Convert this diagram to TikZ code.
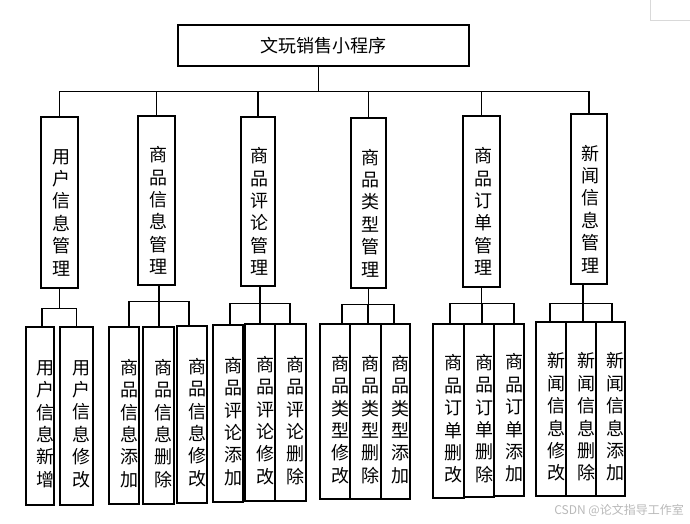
\documentclass[tikz,border=0pt]{standalone}
\usepackage{fontspec}
\newfontfamily\cjk{Noto Sans CJK SC}
\newcommand\bx[8]{%
  \node[box, minimum width={#4-#2}, minimum height={#5-#3},
        label={[vtext,xshift=#6pt,yshift=#7pt]center:{#8}}] (#1) at ({(#2+#4)/2},{(#3+#5)/2}) {};}
\begin{document}
\begin{tikzpicture}[x=1pt,y=-1pt,
  box/.style={draw, line width=1.2pt, inner sep=0pt},
  conn/.style={line width=1.2pt},
  vtext/.style={font=\cjk\fontsize{18}{22.4}\selectfont, align=center, inner sep=0pt}]
\useasboundingbox[fill=white] (0,0) rectangle (690,524);

% title
\node[box, minimum width=291pt, minimum height=41pt, font=\cjk\fontsize{18}{22}\selectfont] (title) at (323.5,45.5) {文玩销售小程序};

% level 2
\bx{a}{41}{117}{78}{288}{1.5}{-10}{用\\户\\信\\息\\管\\理}
\bx{b}{138}{116}{175}{285}{1.5}{-10}{商\\品\\信\\息\\管\\理}
\bx{c}{241}{117}{275}{286}{1.5}{-10}{商\\品\\评\\论\\管\\理}
\bx{d}{351}{118}{386}{288}{1.5}{-10}{商\\品\\类\\型\\管\\理}
\bx{e}{463}{116}{500}{287}{1.5}{-10}{商\\品\\订\\单\\管\\理}
\bx{f}{571}{114}{607}{284}{1.5}{-10}{新\\闻\\信\\息\\管\\理}

% level 3
\bx{a1}{26}{327}{54}{505}{5}{-8}{用\\户\\信\\息\\新\\增}
\bx{a2}{60}{327}{93}{505}{5}{-8}{用\\户\\信\\息\\修\\改}
\bx{b1}{109}{327}{139}{504}{5}{-8}{商\\品\\信\\息\\添\\加}
\bx{b2}{143}{327}{174}{504}{5}{-8}{商\\品\\信\\息\\删\\除}
\bx{b3}{177}{326}{207}{503}{5}{-8}{商\\品\\信\\息\\修\\改}
\bx{c1}{213}{325}{243}{502}{5}{-8}{商\\品\\评\\论\\添\\加}
\bx{c2}{245}{324}{275}{501}{5}{-8}{商\\品\\评\\论\\修\\改}
\bx{c3}{275}{324}{306}{501}{5}{-8}{商\\品\\评\\论\\删\\除}
\bx{d1}{320}{324}{350}{499}{5}{-8}{商\\品\\类\\型\\修\\改}
\bx{d2}{350}{324}{381}{499}{5}{-8}{商\\品\\类\\型\\删\\除}
\bx{d3}{381}{324}{410}{499}{5}{-8}{商\\品\\类\\型\\添\\加}
\bx{e1}{433}{324}{464}{498}{5}{-8}{商\\品\\订\\单\\删\\改}
\bx{e2}{464}{324}{494}{497}{5}{-8}{商\\品\\订\\单\\删\\除}
\bx{e3}{494}{324}{524}{496}{5}{-8}{商\\品\\订\\单\\添\\加}
\bx{f1}{536}{322}{566}{496}{5}{-8}{新\\闻\\信\\息\\修\\改}
\bx{f2}{566}{322}{596}{496}{5}{-8}{新\\闻\\信\\息\\删\\除}
\bx{f3}{596}{322}{625}{496}{5}{-8}{新\\闻\\信\\息\\添\\加}

% connectors level 1 -> 2
\draw[conn] ([xshift=-5pt]title.south) -- ++(0,25) coordinate (top);
\foreach \n in {a,b,c,d,e,f} \draw[conn] (\n.north) |- (top);

% connectors level 2 -> 3
\draw[conn] (a.south) -- ++(0,20) coordinate (ja);
\draw[conn] ([xshift=2pt]a1.north) |- (ja);
\draw[conn] (a2.north) |- (ja);

\draw[conn] ([xshift=2.5pt]b.south) -- ++(0,16) coordinate (jb);
\draw[conn] ([xshift=5pt]b1.north) |- (jb);
\draw[conn] ([xshift=0.5pt]b2.north) |- (jb);
\draw[conn] ([xshift=-3pt]b3.north) |- (jb);

\draw[conn] ([xshift=2pt]c.south) -- ++(0,17) coordinate (jc);
\draw[conn] ([xshift=2pt]c1.north) |- (jc);
\draw[conn] (c2.north) |- (jc);
\draw[conn] ([xshift=-0.5pt]c3.north) |- (jc);

\draw[conn] (d.south) -- ++(0,16) coordinate (jd);
\draw[conn] ([xshift=7pt]d1.north) |- (jd);
\draw[conn] ([xshift=2.5pt]d2.north) |- (jd);
\draw[conn] ([xshift=-1.5pt]d3.north) |- (jd);

\draw[conn] (e.south) -- ++(0,16) coordinate (je);
\draw[conn] ([xshift=1.5pt]e1.north) |- (je);
\draw[conn] ([xshift=3pt]e2.north) |- (je);
\draw[conn] ([xshift=5pt]e3.north) |- (je);

\draw[conn] ([xshift=-6pt]f.south) -- ++(0,19) coordinate (jf);
\draw[conn] ([xshift=-1pt]f1.north) |- (jf);
\draw[conn] ([xshift=2pt]f2.north) |- (jf);
\draw[conn] ([xshift=1.5pt]f3.north) |- (jf);

% page corner mark and watermark
\draw[gray!30, line width=0.8pt] (650,0) -- (650,20) -- (690,20);
\node[font=\cjk\fontsize{12}{14}\selectfont, text=gray!55, anchor=east, inner sep=0pt] (wm) at (684,510) {CSDN @论文指导工作室};
\end{tikzpicture}
\end{document}
